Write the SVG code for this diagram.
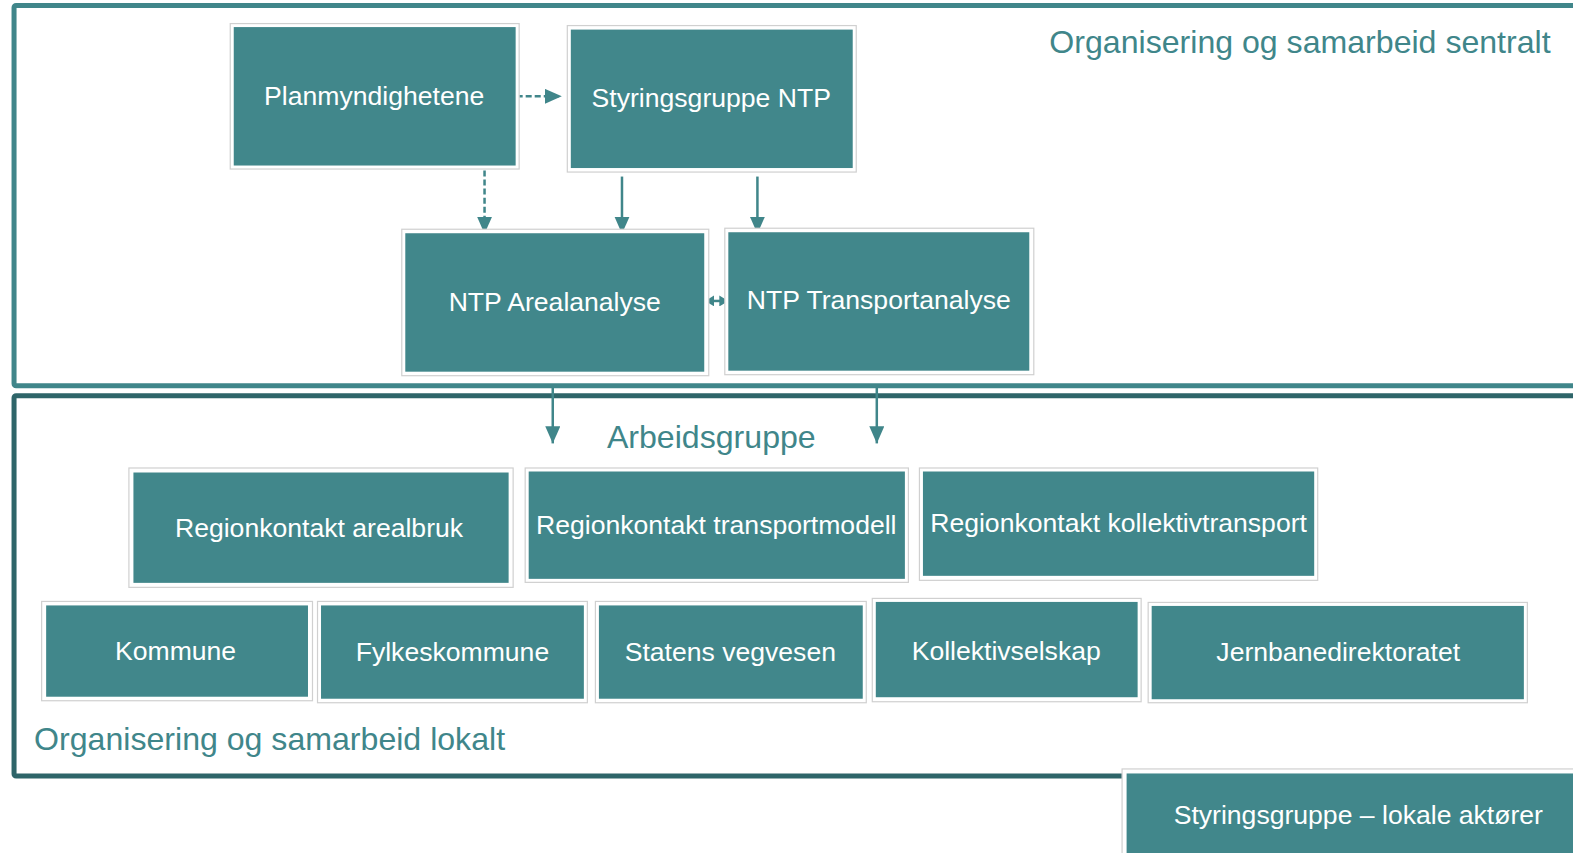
<svg xmlns="http://www.w3.org/2000/svg" width="1573" height="853" viewBox="0 0 1573 853">
  <style>
    .frame-top { fill: none; stroke: #40868a; stroke-width: 5; }
    .frame-bot { fill: none; stroke: #2e6569; stroke-width: 5; }
    .outer { fill: #ffffff; stroke: #d0d0d0; stroke-width: 1.2; }
    .inner { fill: #41878b; }
    .lbl { font-family: "Liberation Sans", Arial, sans-serif; font-size: 26.5px; fill: #ffffff; text-anchor: middle; }
    .head { font-family: "Liberation Sans", Arial, sans-serif; font-size: 32px; fill: #40868a; }
    .conn { fill: none; stroke: #40868a; stroke-width: 2.5; }
    .dash { stroke-dasharray: 6 3; }
  </style>
  <defs>
    <marker id="arr" markerUnits="userSpaceOnUse" markerWidth="17" markerHeight="15" refX="17" refY="7.5" orient="auto">
      <path d="M0,0 L17,7.5 L0,15 Z" fill="#40868a"/>
    </marker>
    <marker id="arrs" markerUnits="userSpaceOnUse" markerWidth="9" markerHeight="11" refX="9" refY="5.5" orient="auto-start-reverse">
      <path d="M0,0 L9,5.5 L0,11 Z" fill="#40868a"/>
    </marker>
  </defs>

  <rect width="1573" height="853" fill="#ffffff"/>

  <g transform="scale(1.0032)">
  <g id="frame-sentralt">
    <rect class="frame-top" x="14" y="5.5" width="1600" height="379" rx="2"/>
    <text class="head" x="1046" y="53">Organisering og samarbeid sentralt</text>
  </g>
  <g id="frame-lokalt">
    <rect class="frame-bot" x="14" y="394.5" width="1600" height="379" rx="2"/>
    <text class="head" x="34" y="748">Organisering og samarbeid lokalt</text>
    <text class="head" x="605" y="447">Arbeidsgruppe</text>
  </g>

  <g id="connectors">
    <line class="conn dash" x1="515" y1="96" x2="560" y2="96" marker-end="url(#arr)"/>
    <line class="conn dash" x1="483" y1="170" x2="483" y2="233" marker-end="url(#arr)"/>
    <line class="conn" x1="620" y1="176" x2="620" y2="233" marker-end="url(#arr)"/>
    <line class="conn" x1="755" y1="176" x2="755" y2="233" marker-end="url(#arr)"/>
    <line class="conn" x1="703" y1="300" x2="726" y2="300" marker-start="url(#arrs)" marker-end="url(#arrs)"/>
    <line class="conn" x1="551" y1="386" x2="551" y2="442" marker-end="url(#arr)"/>
    <line class="conn" x1="874" y1="386" x2="874" y2="442" marker-end="url(#arr)"/>
  </g>

  <g id="planmyndighetene">
    <rect class="outer" x="229.5" y="23.5" width="288" height="145"/>
    <rect class="inner" x="233" y="27" width="281" height="138"/>
    <text class="lbl" x="373" y="104.5">Planmyndighetene</text>
  </g>
  <g id="styringsgruppe-ntp">
    <rect class="outer" x="565.5" y="25.5" width="288" height="146"/>
    <rect class="inner" x="569" y="29.5" width="281" height="138"/>
    <text class="lbl" x="709" y="106.5">Styringsgruppe NTP</text>
  </g>
  <g id="ntp-arealanalyse">
    <rect class="outer" x="400.5" y="228.5" width="306" height="146"/>
    <rect class="inner" x="404" y="232.5" width="298" height="138"/>
    <text class="lbl" x="553" y="310.5">NTP Arealanalyse</text>
  </g>
  <g id="ntp-transportanalyse">
    <rect class="outer" x="722.5" y="227.5" width="308" height="146"/>
    <rect class="inner" x="726" y="231.5" width="300" height="138"/>
    <text class="lbl" x="876" y="308.5">NTP Transportanalyse</text>
  </g>
  <g id="regionkontakt-arealbruk">
    <rect class="outer" x="128.5" y="466.5" width="383" height="119"/>
    <rect class="inner" x="133" y="471" width="374" height="110"/>
    <text class="lbl" x="318" y="535">Regionkontakt arealbruk</text>
  </g>
  <g id="regionkontakt-transportmodell">
    <rect class="outer" x="523.5" y="466.5" width="382" height="114"/>
    <rect class="inner" x="527" y="470" width="375" height="107"/>
    <text class="lbl" x="714" y="532">Regionkontakt transportmodell</text>
  </g>
  <g id="regionkontakt-kollektivtransport">
    <rect class="outer" x="916.5" y="466.5" width="397" height="112"/>
    <rect class="inner" x="920" y="470" width="390" height="104"/>
    <text class="lbl" x="1115" y="530">Regionkontakt kollektivtransport</text>
  </g>
  <g id="kommune">
    <rect class="outer" x="41.5" y="599.5" width="270" height="99"/>
    <rect class="inner" x="46" y="603.5" width="261" height="91"/>
    <text class="lbl" x="175" y="658">Kommune</text>
  </g>
  <g id="fylkeskommune">
    <rect class="outer" x="316.5" y="599.5" width="269" height="101"/>
    <rect class="inner" x="320" y="603.5" width="262" height="93"/>
    <text class="lbl" x="451" y="659">Fylkeskommune</text>
  </g>
  <g id="statens-vegvesen">
    <rect class="outer" x="593.5" y="599.5" width="270" height="101"/>
    <rect class="inner" x="597" y="603.5" width="263" height="93"/>
    <text class="lbl" x="728" y="659">Statens vegvesen</text>
  </g>
  <g id="kollektivselskap">
    <rect class="outer" x="869.5" y="596.5" width="268" height="103"/>
    <rect class="inner" x="873" y="600" width="261" height="95"/>
    <text class="lbl" x="1003" y="658">Kollektivselskap</text>
  </g>
  <g id="jernbanedirektoratet">
    <rect class="outer" x="1144.5" y="600.5" width="378" height="100"/>
    <rect class="inner" x="1148" y="604" width="371" height="93"/>
    <text class="lbl" x="1334" y="659">Jernbanedirektoratet</text>
  </g>
  <g id="styringsgruppe-lokale">
    <rect class="outer" x="1118.5" y="766.5" width="470" height="100"/>
    <rect class="inner" x="1123" y="771" width="460" height="95"/>
    <text class="lbl" x="1354" y="821">Styringsgruppe – lokale aktører</text>
  </g>
  </g>
</svg>
